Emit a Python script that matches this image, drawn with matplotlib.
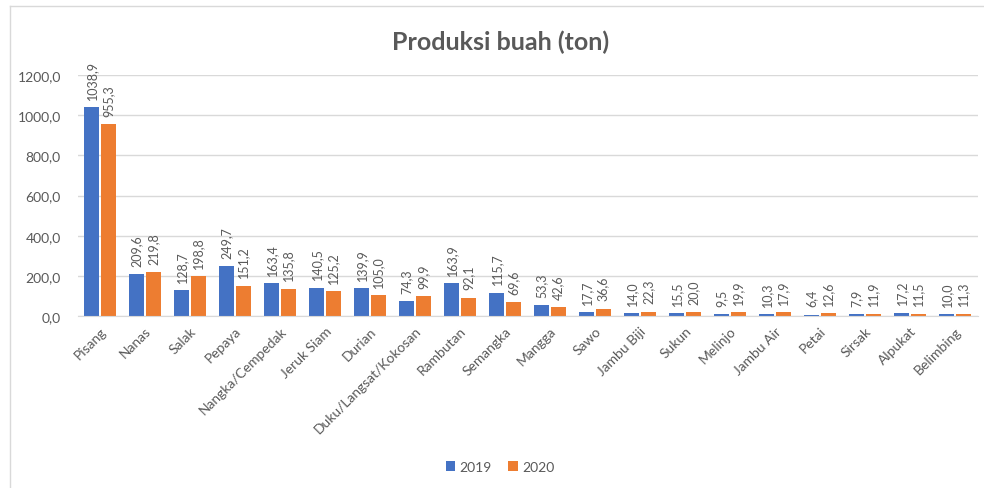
import matplotlib
matplotlib.use("Agg")
import matplotlib.pyplot as plt
import numpy as np
from matplotlib.lines import Line2D

categories = ["Pisang", "Nanas", "Salak", "Pepaya", "Nangka/Cempedak", "Jeruk Siam",
              "Durian", "Duku/Langsat/Kokosan", "Rambutan", "Semangka", "Mangga", "Sawo",
              "Jambu Biji", "Sukun", "Melinjo", "Jambu Air", "Petai", "Sirsak", "Alpukat",
              "Belimbing"]
v2019 = [1038.9, 209.6, 128.7, 249.7, 163.4, 140.5, 139.9, 74.3, 163.9, 115.7, 53.3, 17.7,
         14.0, 15.5, 9.5, 10.3, 6.4, 7.9, 17.2, 10.0]
v2020 = [955.3, 219.8, 198.8, 151.2, 135.8, 125.2, 105.0, 99.9, 92.1, 69.6, 42.6, 36.6,
         22.3, 20.0, 19.9, 17.9, 12.6, 11.9, 11.5, 11.3]
yticks = [0, 200, 400, 600, 800, 1000, 1200]

plt.rcParams['font.family'] = ['Lato', 'DejaVu Sans']
gray = '#595959'
blue = '#4472C4'
orange = '#ED7D31'

fig = plt.figure(figsize=(9.84, 4.89), dpi=100)
ax = fig.add_axes([77.5/984, 1-317/489, 900/984, 241/489])

x = np.arange(len(categories))
w = 0.33
off = 0.18
b1 = ax.bar(x - off, v2019, w, color=blue, label='2019')
b2 = ax.bar(x + off, v2020, w, color=orange, label='2020')

def fmt(v):
    return f"{v:.1f}".replace('.', ',')

for bars, vals in ((b1, v2019), (b2, v2020)):
    for r, v in zip(bars, vals):
        ax.annotate(fmt(v), (r.get_x() + r.get_width()/2, v), xytext=(0, 6),
                    textcoords='offset points', rotation=90, ha='center', va='bottom',
                    fontsize=9, color=gray, annotation_clip=False)

ax.set_xlim(-0.5, len(categories) - 0.5)
ax.set_ylim(0, 1200)
ax.set_yticks(yticks)
ax.set_yticklabels([fmt(t) for t in yticks], fontsize=10, color=gray)
ax.set_xticks(x)
ax.set_xticklabels(categories, rotation=45, ha='right', rotation_mode='anchor',
                   fontsize=10, color=gray)
ax.tick_params(axis='both', length=0)
ax.tick_params(axis='y', pad=12)
ax.tick_params(axis='x', pad=6)
for s in ('top', 'right', 'left'):
    ax.spines[s].set_visible(False)
ax.spines['bottom'].set_color('#D9D9D9')
ax.yaxis.grid(True, color='#D9D9D9', linewidth=1)
ax.set_axisbelow(True)

fig.text(501/984, 1-42/489, "Produksi buah (ton)", ha='center', va='center',
         fontsize=18, color=gray, fontweight='bold')

leg = fig.legend(handles=[b1, b2], labels=['2019', '2020'], loc='center',
                 bbox_to_anchor=(500/984, 1-468/489), ncol=2, frameon=False,
                 fontsize=10, handlelength=0.7, handleheight=0.7, handletextpad=0.3,
                 columnspacing=1.2)
for t in leg.get_texts():
    t.set_color(gray)

fig.add_artist(Line2D([10/984, 10/984], [0, 1-7/489], transform=fig.transFigure,
                      color='#D9D9D9', linewidth=1))
fig.add_artist(Line2D([10/984, 1], [1-7/489, 1-7/489], transform=fig.transFigure,
                      color='#D9D9D9', linewidth=1))

fig.savefig('out.png', dpi=100)
